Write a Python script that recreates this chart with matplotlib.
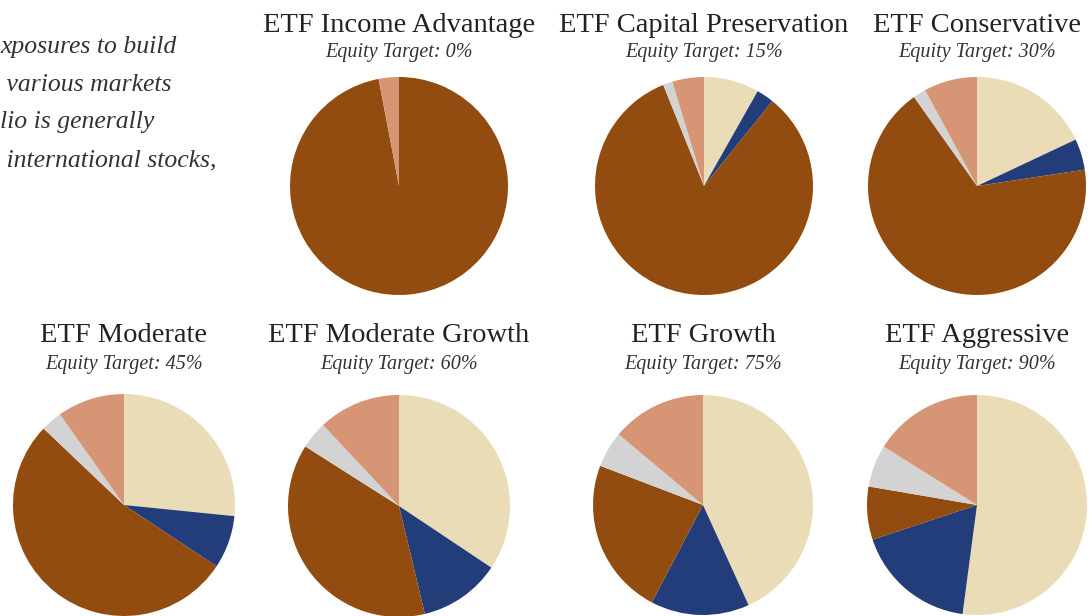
import matplotlib.pyplot as plt

# Portfolio names and their equity targets
titles = ["ETF Income Advantage", "ETF Capital Preservation", "ETF Conservative",
          "ETF Moderate", "ETF Moderate Growth", "ETF Growth", "ETF Aggressive"]
targets = ["0%", "15%", "30%", "45%", "60%", "75%", "90%"]

# Slice shares (percent), clockwise from 12 o'clock
us_equity    = [0.0, 8.2, 18.0, 26.6, 34.4, 43.2, 52.1]
intl_equity  = [0.0, 2.6, 4.6, 7.7, 11.9, 14.5, 17.8]
fixed_income = [97.0, 83.1, 67.6, 52.8, 37.8, 23.1, 7.8]
alternatives = [0.0, 1.4, 1.9, 3.1, 4.0, 5.3, 6.2]
small_mid    = [3.0, 4.7, 7.9, 9.8, 12.0, 13.9, 16.1]

# Cut-off intro text on the left
intro_lines = ["xposures to build", " various markets", "lio is generally", " international stocks,"]

colors = ["#E9DCB6", "#233D7A", "#934C10", "#D4D3D4", "#D69676"]

W, H = 1091, 616
fig = plt.figure(figsize=(W / 100, H / 100), dpi=100)
serif = "Liberation Serif"

# pixel centres / radii of each pie and baselines of its labels
centres = [(399, 186, 109), (704, 186, 109), (977, 186, 109),
           (124, 505, 111), (399, 506, 111), (703, 505, 110), (977, 505, 110)]
title_base = [32, 32, 32, 342, 342, 342, 342]
sub_base = [57, 57, 57, 369, 369, 369, 369]

for i in range(len(titles)):
    cx, cy, r = centres[i]
    ax = fig.add_axes([(cx - r) / W, 1 - (cy + r) / H, 2 * r / W, 2 * r / H])
    vals = [us_equity[i], intl_equity[i], fixed_income[i], alternatives[i], small_mid[i]]
    ax.pie(vals, colors=colors, startangle=90, counterclock=False, radius=1,
           wedgeprops=dict(linewidth=0))
    ax.set_xlim(-1, 1)
    ax.set_ylim(-1, 1)
    ax.set_aspect("equal")
    ax.axis("off")

    fig.text(cx / W, 1 - title_base[i] / H, titles[i], ha="center", va="baseline",
             fontsize=20.5, family=serif, color="#222222")
    fig.text(cx / W, 1 - sub_base[i] / H, "Equity Target: " + targets[i], ha="center",
             va="baseline", fontsize=14.5, family=serif, style="italic", color="#333333")

for j, line in enumerate(intro_lines):
    fig.text(0, 1 - (53 + 37.7 * j) / H, line, ha="left", va="baseline",
             fontsize=18.5, family=serif, style="italic", color="#333333")

fig.savefig("out.png", dpi=100)
